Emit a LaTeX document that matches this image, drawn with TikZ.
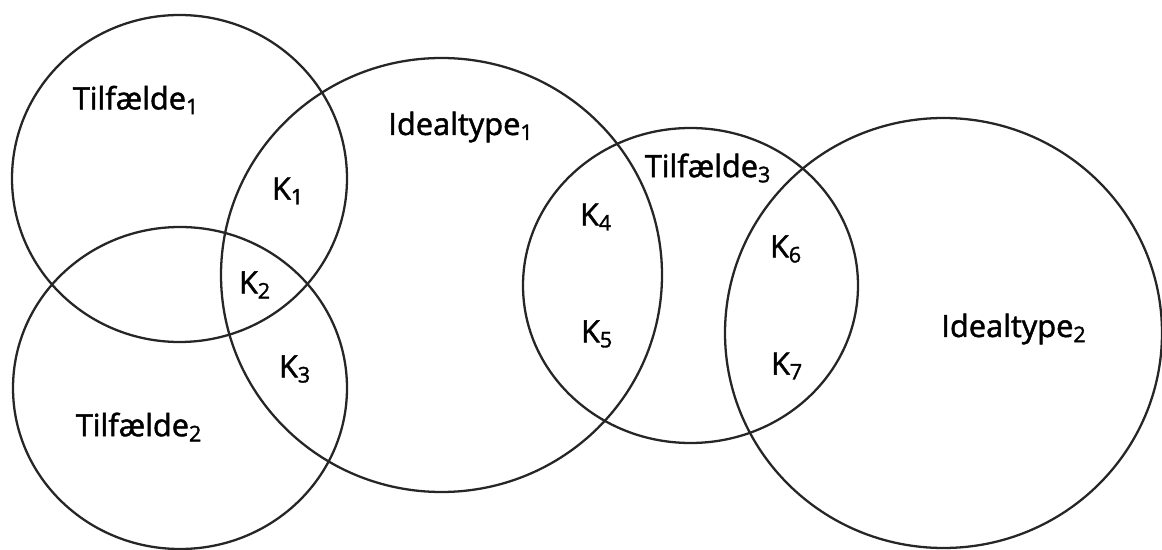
\documentclass[tikz,border=0pt]{standalone}
\usepackage{fontspec}
\setmainfont[FakeBold=1.6]{Open Sans}
\usepackage{tikz}

\begin{document}
\begin{tikzpicture}[x=0.02cm, y=-0.02cm,
  ring/.style={draw=black!85, line width=1.3pt},
  lbl/.style={font=\fontsize{17.5}{19}\selectfont, inner sep=0pt}]
\useasboundingbox (0,0) rectangle (1162,550);
\foreach \cx/\cy/\rx/\ry in {179.5/178.5/167.5/163.5, 180/388/167/161, 441.5/275/220.5/217, 690.5/285.5/167.5/157.5, 943.5/333/218.5/215}
  \draw[ring] (\cx,\cy) ellipse [x radius=\rx, y radius=\ry];
\node[lbl] (T1) at (136,100) {Tilfælde\textsubscript{1}};
\node[lbl] (T2) at (139,427) {Tilfælde\textsubscript{2}};
\node[lbl] (T3) at (708,168) {Tilfælde\textsubscript{3}};
\node[lbl] (I1) at (461,127) {Idealtype\textsubscript{1}};
\node[lbl] (I2) at (1014,329) {Idealtype\textsubscript{2}};
\node[lbl] (K1) at (288,191) {K\textsubscript{1}};
\node[lbl] (K2) at (255,285) {K\textsubscript{2}};
\node[lbl] (K3) at (295,369) {K\textsubscript{3}};
\node[lbl] (K4) at (596,217) {K\textsubscript{4}};
\node[lbl] (K5) at (597,334) {K\textsubscript{5}};
\node[lbl] (K6) at (786,249) {K\textsubscript{6}};
\node[lbl] (K7) at (787,366) {K\textsubscript{7}};
\end{tikzpicture}
\end{document}
